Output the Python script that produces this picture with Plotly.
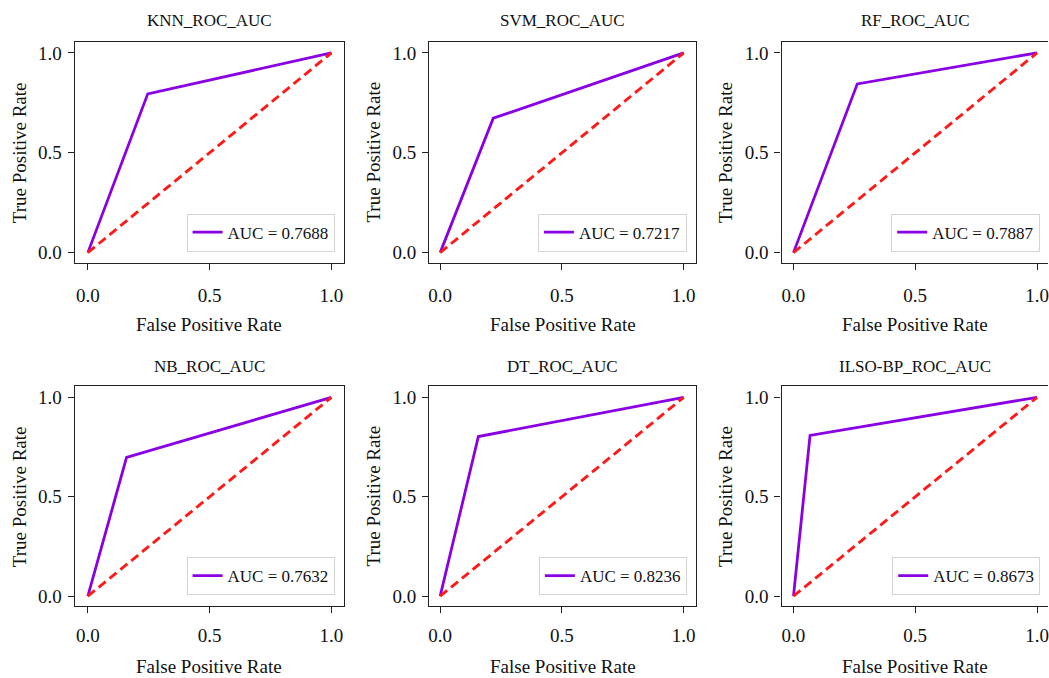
import plotly.graph_objects as go

W, H = 1049, 678

models = ["KNN", "SVM", "RF", "NB", "DT", "ILSO-BP"]
fpr_values = [[0.0, 0.246, 1.0], [0.0, 0.218, 1.0], [0.0, 0.262, 1.0],
              [0.0, 0.159, 1.0], [0.0, 0.157, 1.0], [0.0, 0.068, 1.0]]
tpr_values = [[0.0, 0.795, 1.0], [0.0, 0.673, 1.0], [0.0, 0.845, 1.0],
              [0.0, 0.698, 1.0], [0.0, 0.803, 1.0], [0.0, 0.809, 1.0]]
auc_values = ["0.7688", "0.7217", "0.7887", "0.7632", "0.8236", "0.8673"]
chance_x = [0.0, 1.0]
chance_y = [0.0, 1.0]
tick_vals = [0.0, 0.5, 1.0]
tick_text = ["0.0", "0.5", "1.0"]

FONT = "Liberation Serif, Times New Roman, serif"
PURPLE = "#8A00E4"
RED = "#FF1A1A"

col_left = [74, 429, 782]
col_x0 = [87, 440, 794]
px_unit = 244.0
row_top = [42, 387]
row_bottom = [263, 607]

fig = go.Figure()
annotations = []
layout = {}

for i, name in enumerate(models):
    r, c = divmod(i, 3)
    left = col_left[c]
    x0 = col_x0[c]
    right = min(x0 + px_unit * 1.05 + 0.5, W)
    xmin = (left - x0) / px_unit
    xmax = (right - x0) / px_unit
    top, bottom = row_top[r], row_bottom[r]
    k = "" if i == 0 else str(i + 1)
    xa, ya = "x" + k, "y" + k
    leg = "legend" + k

    fig.add_trace(go.Scatter(x=fpr_values[i], y=tpr_values[i], mode="lines",
                             line=dict(color=PURPLE, width=2.8),
                             name="AUC = " + auc_values[i],
                             xaxis=xa, yaxis=ya, legend=leg, showlegend=True))
    fig.add_trace(go.Scatter(x=chance_x, y=chance_y, mode="lines",
                             line=dict(color=RED, width=2.9, dash="9px,5px"),
                             xaxis=xa, yaxis=ya, showlegend=False))

    common = dict(showline=True, linecolor="#222", linewidth=1.4, ticks="outside",
                  ticklen=6, tickwidth=1.2, tickcolor="#222", showgrid=False,
                  zeroline=False, tickvals=tick_vals, ticktext=tick_text,
                  ticklabeloverflow="allow",
                  tickfont=dict(family=FONT, size=19, color="#111"))
    layout["xaxis" + k] = dict(common, domain=[left / W, right / W],
                               range=[xmin, xmax], anchor=ya, mirror=True,
                               ticklabelstandoff=9 if r == 0 else 6)
    layout["yaxis" + k] = dict(common, domain=[1 - bottom / H, 1 - top / H],
                               range=[-0.05, 1.055], anchor=xa,
                               mirror=(c != 2), ticklabelstandoff=2)

    xc = (left + x0 + px_unit * 1.05) / 2
    yc = (top + bottom) / 2
    annotations.append(dict(text=name + "_ROC_AUC", x=xc / W, y=1 - (21 + r * 346) / H,
                            xref="paper", yref="paper", showarrow=False,
                            xanchor="center", yanchor="middle",
                            font=dict(family=FONT, size=17, color="#111")))
    if r == 0:
        xt = dict(y=1 - (bottom + 62) / H, yanchor="middle")
    else:
        xt = dict(y=0, yanchor="bottom", yshift=-2)
    annotations.append(dict(text="False Positive Rate", x=xc / W,
                            xref="paper", yref="paper", showarrow=False,
                            xanchor="center",
                            font=dict(family=FONT, size=19, color="#111"), **xt))
    annotations.append(dict(text="True Positive Rate", x=(left - 56) / W, y=1 - yc / H,
                            xref="paper", yref="paper", showarrow=False, textangle=-90,
                            xanchor="center", yanchor="middle",
                            font=dict(family=FONT, size=19, color="#111")))

    layout[leg] = dict(x=(x0 + px_unit * 1.05 - 9) / W, y=1 - (bottom - 11) / H,
                       xanchor="right", yanchor="bottom", bgcolor="white",
                       bordercolor="#d4d4d4", borderwidth=1, itemwidth=30,
                       font=dict(family=FONT, size=17, color="#111"))

fig.update_layout(width=W, height=H, margin=dict(l=0, r=0, t=0, b=0),
                  paper_bgcolor="white", plot_bgcolor="white",
                  annotations=annotations, **layout)

fig.write_html("out.html", config={"displayModeBar": False},
               post_script="document.body.style.margin='0';document.body.style.overflow='hidden';")
